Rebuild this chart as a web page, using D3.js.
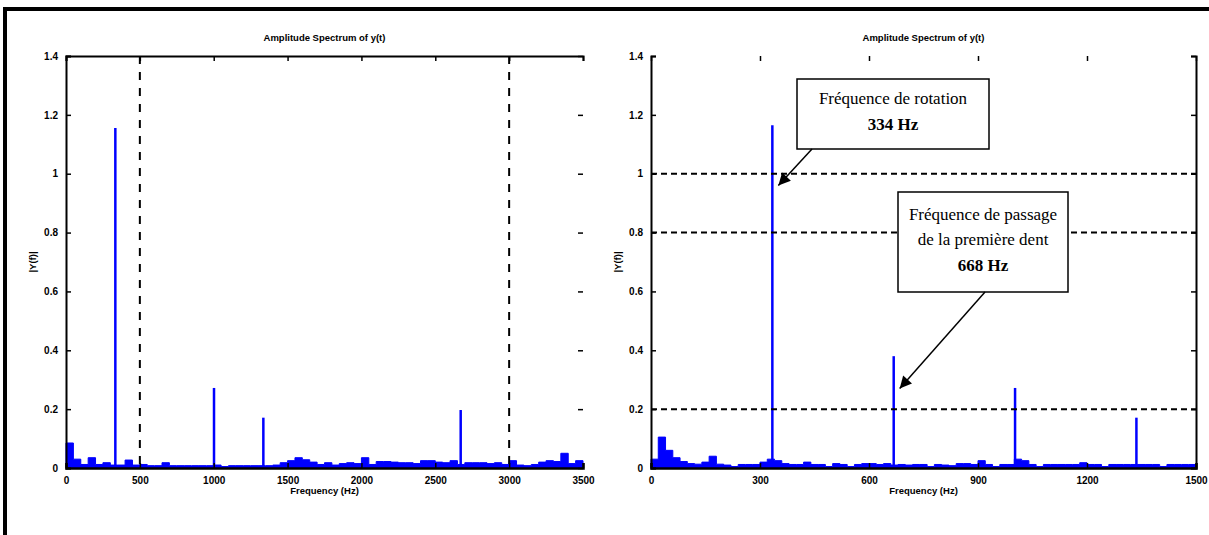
<!DOCTYPE html>
<html><head><meta charset="utf-8">
<script src="https://cdn.jsdelivr.net/npm/d3@7"></script>
<style>body{margin:0;background:#fff}svg{display:block}</style>
</head><body>
<script>
// ---- data ----
const leftTitle = "Amplitude Spectrum of y(t)";
const rightTitle = "Amplitude Spectrum of y(t)";
const xLabelText = "Frequency (Hz)";
const yLabelText = "|Y(f)|";
const yTicks = [0, 0.2, 0.4, 0.6, 0.8, 1, 1.2, 1.4];
const leftXTicks = [0, 500, 1000, 1500, 2000, 2500, 3000, 3500];
const rightXTicks = [0, 300, 600, 900, 1200, 1500];
const leftMarkers = [500, 3000];          // vertical dashed lines (Hz)
const rightLevels = [0.2, 0.8, 1.0];      // horizontal dashed lines
// peaks [frequency Hz, amplitude]
const leftPeakFreq = [334, 1002, 1336, 2672];
const leftPeakAmp = [1.155, 0.272, 0.171, 0.197];
const rightPeakFreq = [334, 668, 1002, 1336];
const rightPeakAmp = [1.165, 0.38, 0.272, 0.171];
// noise floor, left chart: 50 Hz bins from 0 to 3500
const leftNoiseStep = 50;
const leftNoise = [0.085,0.03,0.012,0.035,0.012,0.018,0.01,0.01,0.027,0.01,
  0.012,0.008,0.008,0.018,0.008,0.008,0.008,0.008,0.008,0.008,
  0.01,0.005,0.008,0.008,0.008,0.008,0.008,0.008,0.01,0.018,
  0.025,0.035,0.028,0.02,0.012,0.018,0.01,0.015,0.018,0.015,
  0.035,0.012,0.022,0.022,0.02,0.018,0.018,0.015,0.025,0.025,
  0.02,0.018,0.025,0.012,0.018,0.018,0.018,0.015,0.018,0.012,
  0.025,0.01,0.008,0.012,0.02,0.025,0.022,0.05,0.015,0.025,0.012];
// noise floor, right chart: 20 Hz bins from 0 to 1500
const rightNoiseStep = 20;
const rightNoise = [0.03,0.105,0.06,0.035,0.022,0.015,0.013,0.02,0.04,0.013,
  0.01,0.005,0.012,0.012,0.012,0.02,0.03,0.025,0.015,0.012,
  0.012,0.02,0.012,0.012,0.005,0.015,0.012,0.005,0.012,0.015,
  0.015,0.012,0.015,0.01,0.012,0.01,0.012,0.012,0.005,0.012,
  0.01,0.008,0.015,0.015,0.012,0.025,0.012,0.005,0.012,0.012,
  0.03,0.025,0.012,0.005,0.012,0.012,0.012,0.012,0.012,0.018,
  0.012,0.012,0.005,0.012,0.012,0.012,0.012,0.012,0.012,0.012,
  0.005,0.012,0.012,0.012,0.012,0.012];
const note1 = ["Fréquence de rotation", "334 Hz"];
const note2 = ["Fréquence de passage", "de la première dent", "668 Hz"];

// ---- drawing ----
const W = 1209, H = 535;
const svg = d3.select("body").append("svg").attr("width", W).attr("height", H);
const BLUE = "#0000ff";
const tickFont = "Liberation Sans, Arial, sans-serif";

// outer frame
svg.append("line").attr("x1", 3).attr("x2", W).attr("y1", 9).attr("y2", 9)
  .attr("stroke", "#000").attr("stroke-width", 4);
svg.append("line").attr("x1", 5).attr("x2", 5).attr("y1", 7).attr("y2", H)
  .attr("stroke", "#000").attr("stroke-width", 4);

function panel(opt) {
  const x = d3.scaleLinear().domain(opt.xDomain).range(opt.xRange);
  const y = d3.scaleLinear().domain([0, 1.4]).range([468, 56]);
  const g = svg.append("g");
  const [x0, x1] = opt.xRange;

  // noise floor (step area)
  const pts = opt.noise.map((v, i) => [i * opt.step, v]);
  g.append("path").datum(pts)
    .attr("d", d3.area().curve(d3.curveStepAfter)
      .x(d => x(Math.min(d[0], opt.xDomain[1]))).y0(y(0)).y1(d => y(d[1])))
    .attr("fill", BLUE).attr("stroke", BLUE).attr("stroke-width", 1);

  // peaks
  g.selectAll(".pk").data(opt.peakFreq).join("line")
    .attr("x1", d => x(d)).attr("x2", d => x(d))
    .attr("y1", y(0)).attr("y2", (d, i) => y(opt.peakAmp[i]))
    .attr("stroke", BLUE).attr("stroke-width", 2.5);

  // dashed reference lines
  if (opt.vlines) g.selectAll(".vl").data(opt.vlines).join("line")
    .attr("x1", d => x(d)).attr("x2", d => x(d)).attr("y1", y(1.4)).attr("y2", y(0))
    .attr("stroke", "#000").attr("stroke-width", 2).attr("stroke-dasharray", "8,8");
  if (opt.hlines) g.selectAll(".hl").data(opt.hlines).join("line")
    .attr("x1", x0).attr("x2", x1).attr("y1", d => y(d)).attr("y2", d => y(d))
    .attr("stroke", "#000").attr("stroke-width", 2).attr("stroke-dasharray", "6,4");

  // axes
  const fmt = d => String(d);
  const bottom = g.append("g").attr("transform", `translate(0,${y(0)})`)
    .call(d3.axisBottom(x).tickValues(opt.xTicks).tickSize(-5).tickPadding(9).tickFormat(fmt));
  const left = g.append("g").attr("transform", `translate(${x0},0)`)
    .call(d3.axisLeft(y).tickValues(yTicks).tickSize(-5).tickPadding(8).tickFormat(fmt));
  const top = g.append("g").attr("transform", `translate(0,${y(1.4)})`)
    .call(d3.axisTop(x).tickValues(opt.xTicks).tickSize(-5).tickFormat(""));
  const right = g.append("g").attr("transform", `translate(${x1},0)`)
    .call(d3.axisRight(y).tickValues(yTicks).tickSize(-5).tickFormat(""));
  [bottom, left, top, right].forEach(a => {
    a.selectAll("text").attr("font-family", tickFont).attr("font-size", 10)
      .attr("font-weight", "bold").attr("fill", "#000");
    a.selectAll("line").attr("stroke", "#000").attr("stroke-width", 1.5);
    a.select(".domain").attr("stroke", "#000").attr("stroke-width", 2);
  });
  bottom.select(".domain").attr("stroke-width", 2.5);
  if (opt.hideTop) top.select(".domain").remove();
  if (opt.hideRight) right.select(".domain").remove();

  // labels
  g.append("text").attr("x", (x0 + x1) / 2).attr("y", 41).attr("text-anchor", "middle")
    .attr("font-family", tickFont).attr("font-size", 9.5).attr("font-weight", "bold")
    .text(opt.title);
  g.append("text").attr("x", (x0 + x1) / 2).attr("y", 494).attr("text-anchor", "middle")
    .attr("font-family", tickFont).attr("font-size", 9.5).attr("font-weight", "bold")
    .text(xLabelText);
  g.append("text").attr("transform", `translate(${x0 - 30},262) rotate(-90)`)
    .attr("text-anchor", "middle")
    .attr("font-family", tickFont).attr("font-size", 9.5).attr("font-weight", "bold")
    .text(yLabelText);
  return { x, y };
}

panel({ xDomain: [0, 3500], xRange: [66, 583], xTicks: leftXTicks,
  noise: leftNoise, step: leftNoiseStep, peakFreq: leftPeakFreq, peakAmp: leftPeakAmp,
  vlines: leftMarkers, title: leftTitle, hideRight: true });

const R = panel({ xDomain: [0, 1500], xRange: [651, 1196], xTicks: rightXTicks,
  noise: rightNoise, step: rightNoiseStep, peakFreq: rightPeakFreq, peakAmp: rightPeakAmp,
  hlines: rightLevels, title: rightTitle, hideTop: true });

// arrow marker
svg.append("defs").append("marker").attr("id", "ah")
  .attr("viewBox", "0 0 10 10").attr("refX", 10).attr("refY", 5)
  .attr("markerWidth", 14).attr("markerHeight", 12).attr("markerUnits", "userSpaceOnUse")
  .attr("orient", "auto")
  .append("path").attr("d", "M0,0 L10,5 L0,10 z").attr("fill", "#000");

function noteBox(lines, bx, by, bw, bh, lineYs, boldIdx, from, peakFreq, tipAmp) {
  const g = svg.append("g");
  g.append("rect").attr("x", bx).attr("y", by).attr("width", bw).attr("height", bh)
    .attr("fill", "#fff").attr("stroke", "#000").attr("stroke-width", 1.5);
  lines.forEach((t, i) => {
    g.append("text").attr("x", bx + bw / 2).attr("y", lineYs[i]).attr("text-anchor", "middle")
      .attr("font-family", "Liberation Serif, 'Times New Roman', serif")
      .attr("font-size", 17).attr("font-weight", i === boldIdx ? "bold" : "normal").text(t);
  });
  g.append("line").attr("x1", from[0]).attr("y1", from[1])
    .attr("x2", R.x(peakFreq) + 6).attr("y2", R.y(tipAmp))
    .attr("stroke", "#000").attr("stroke-width", 1.5).attr("marker-end", "url(#ah)");
}
noteBox(note1, 797, 79, 192, 70, [104, 130], 1, [812, 149], rightPeakFreq[0], 0.96);
noteBox(note2, 898, 192, 170, 100, [220, 245, 271], 2, [985, 292], rightPeakFreq[1], 0.27);
</script>
</body></html>
